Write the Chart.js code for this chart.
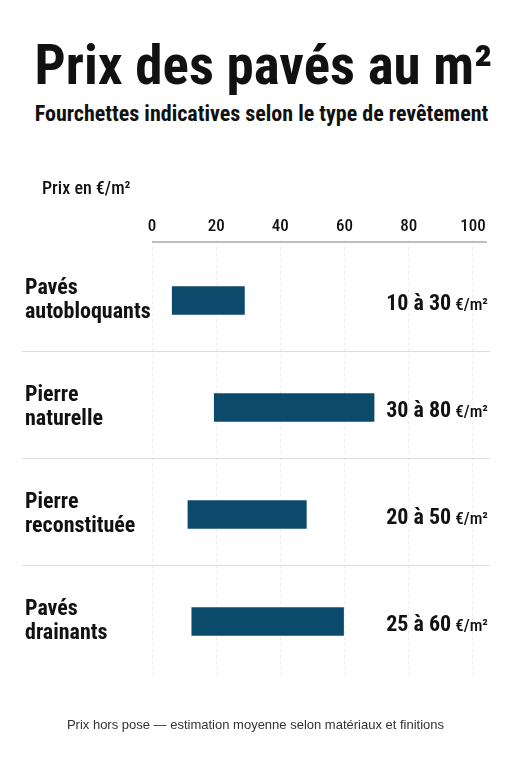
<!DOCTYPE html>
<html lang="fr">
<head>
<meta charset="utf-8">
<title>Prix des pavés au m²</title>
<script src="https://cdn.jsdelivr.net/npm/chart.js@4.4.1/dist/chart.umd.min.js"></script>
<style>
  html, body { margin: 0; padding: 0; background: #fff; }
  body { width: 511px; height: 768px; position: relative; overflow: hidden; }
  #chart { position: absolute; left: 0; top: 0; }
  .txt { position: absolute; left: 0; width: 511px; text-align: center; color: #111; white-space: nowrap; }
  .title { left: 8px; top: 37px; font: bold 55px/56px 'Roboto Condensed', sans-serif; }
  .subtitle { left: 6px; top: 103px; font: bold 22px/22px 'Roboto Condensed', sans-serif; }
  .footer { top: 718px; font: 13px/13px 'Liberation Sans', Arial, sans-serif; color: #333; }
</style>
</head>
<body>
<div class="txt title">Prix des pavés au m²</div>
<div class="txt subtitle">Fourchettes indicatives selon le type de revêtement</div>
<canvas id="chart" width="511" height="768"></canvas>
<div class="txt footer">Prix hors pose — estimation moyenne selon matériaux et finitions</div>
<script>
/* catégories (libellés sur deux lignes) */
const categories = [
  ['Pavés', 'autobloquants'],
  ['Pierre', 'naturelle'],
  ['Pierre', 'reconstituée'],
  ['Pavés', 'drainants'],
];

/* début et fin des barres */
const rangeStart = [6.3, 19.4, 11.2, 12.4];
const rangeEnd = [28.8, 69.2, 48.1, 59.7];

/* textes affichés à droite */
const rangeLabels = ['10 à 30', '30 à 80', '20 à 50', '25 à 60'];
const unitLabel = '€/m²';

/* graduations de l'axe */
const tickValues = [0, 20, 40, 60, 80, 100];

const NARROW = "'Roboto Condensed', sans-serif";

/* texte de l'axe, séparateurs, trait d'axe et fourchettes à droite */
const decorPlugin = {
  id: 'decor',
  afterDraw(chart) {
    const { ctx, chartArea, scales } = chart;
    const y = scales.y;
    ctx.save();

    // titre de l'axe
    ctx.fillStyle = '#111';
    ctx.font = '500 18px ' + NARROW;
    ctx.textAlign = 'left';
    ctx.textBaseline = 'alphabetic';
    ctx.fillText('Prix en €/m²', 42, 194);

    // trait de l'axe
    ctx.strokeStyle = '#a9a9a9';
    ctx.lineWidth = 1.5;
    ctx.beginPath();
    ctx.moveTo(chartArea.left, 242);
    ctx.lineTo(chartArea.right, 242);
    ctx.stroke();

    // séparateurs entre catégories
    ctx.strokeStyle = '#dcdcdc';
    ctx.lineWidth = 1;
    for (let i = 0; i < categories.length - 1; i++) {
      const yy = Math.round((y.getPixelForValue(i) + y.getPixelForValue(i + 1)) / 2) - 2.5;
      ctx.beginPath();
      ctx.moveTo(22, yy);
      ctx.lineTo(490, yy);
      ctx.stroke();
    }

    // fourchettes de prix à droite
    ctx.textAlign = 'right';
    ctx.textBaseline = 'alphabetic';
    rangeLabels.forEach((label, i) => {
      const base = y.getPixelForValue(i) + 9;
      ctx.font = '500 17px ' + NARROW;
      const uw = ctx.measureText(unitLabel).width;
      ctx.fillText(unitLabel, 488, base);
      ctx.font = 'bold 22px ' + NARROW;
      ctx.fillText(label, 488 - uw - 4, base);
    });

    ctx.restore();
  },
};

const data = {
  labels: categories,
  datasets: [
    {
      data: rangeStart.map((s, i) => [s, rangeEnd[i]]),
      backgroundColor: '#0c4a6c',
      borderWidth: 0,
      barThickness: 28,
    },
  ],
};

const config = {
  type: 'bar',
  data: data,
  options: {
    indexAxis: 'y',
    responsive: false,
    animation: false,
    layout: {
      padding: { left: 25, right: 24, top: 200, bottom: 93 },
    },
    plugins: {
      legend: { display: false },
      tooltip: { enabled: false },
    },
    scales: {
      x: {
        position: 'top',
        min: 0,
        max: 104.4,
        afterFit: (scale) => { scale.height = 47; },
        afterBuildTicks: (scale) => {
          scale.ticks = tickValues.map((v) => ({ value: v }));
        },
        border: { display: false, dash: [3, 3] },
        grid: {
          color: '#ececec',
          lineWidth: 1,
          drawTicks: false,
        },
        ticks: {
          padding: 10,
          color: '#111',
          font: { size: 17, weight: '500', family: NARROW },
        },
      },
      y: {
        clip: false,
        afterFit: (scale) => { scale.width = 127; },
        border: { display: false },
        grid: { display: false },
        ticks: {
          crossAlign: 'far',
          padding: 0,
          color: '#111',
          font: { size: 22, weight: 'bold', family: NARROW, lineHeight: 1.1 },
        },
      },
    },
  },
  plugins: [decorPlugin],
};

new Chart(document.getElementById('chart'), config);
</script>
</body>
</html>
